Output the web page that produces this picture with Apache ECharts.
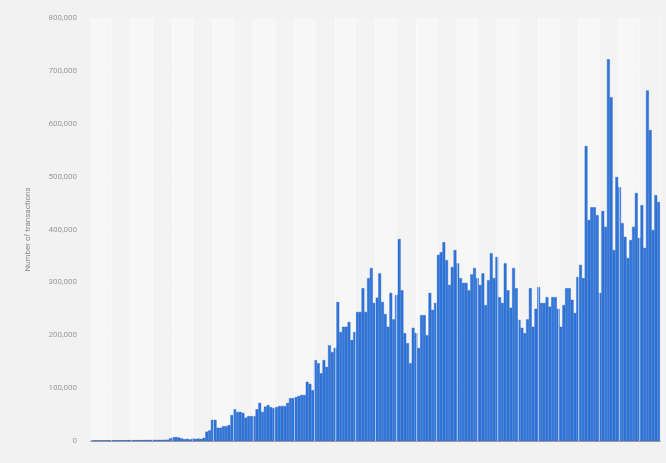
<!DOCTYPE html>
<html>
<head>
<meta charset="utf-8">
<script src="https://cdn.jsdelivr.net/npm/echarts@6/dist/echarts.min.js"></script>
<style>
  html, body { margin: 0; padding: 0; background: #ffffff; }
  #chart { width: 666px; height: 463px; }
</style>
</head>
<body>
<div id="chart"></div>
<script>
// values, one bar per period
const transactions = [
  800, 900, 900, 1000, 1000, 1100, 1100, 1200, 1200, 1300,
  1300, 1400, 1400, 1500, 1500, 1600, 1600, 1700, 1700, 1800,
  1800, 1900, 2000, 2000, 2100, 2200, 2300, 2500,
  5000, 7000, 7500, 6500, 5000, 3500, 4000, 3000, 4500, 4000,
  4500, 4000, 6000,
  17600, 20000, 40000, 40000, 25000, 25000, 28000, 28000, 30000, 49000,
  60000, 55000, 55000, 53000, 44000, 47000, 47000, 47000, 60000, 72000,
  55000, 65000, 68000, 64000, 62000, 64000, 66000, 66000, 66000, 72000,
  81000, 81000, 83000, 85000, 87000, 87000, 112000, 108000, 96000, 153000,
  147000, 128000, 153000, 140000, 181000, 168000, 176000, 263000, 206000, 216000,
  216000, 225000, 191000, 206000, 244000, 244000, 289000, 244000, 308000, 327000,
  261000, 271000, 317000, 263000, 240000, 216000, 280000, 230000, 276000, 382000,
  285000, 204000, 185000, 147000, 214000, 204000, 176000, 238000, 238000, 200000,
  280000, 248000, 261000, 352000, 357000, 376000, 342000, 295000, 329000, 361000,
  336000, 308000, 299000, 299000, 285000, 315000, 327000, 308000, 295000, 317000,
  257000, 304000, 355000, 308000, 348000, 272000, 261000, 336000, 285000, 252000,
  327000, 289000, 229000, 214000, 204000, 230000, 289000, 216000, 250000, 291000,
  261000, 261000, 272000, 254000, 272000, 272000, 250000, 216000, 257000, 289000,
  289000, 267000, 242000, 310000, 333000, 308000, 558000, 418000, 442000, 442000,
  427000, 280000, 435000, 405000, 722000, 650000, 361000, 499000, 480000, 412000,
  386000, 346000, 380000, 405000, 469000, 384000, 446000, 365000, 663000, 588000,
  399000, 465000, 452000
];
const periods = transactions.map((v, i) => 'P' + (i + 1));
const bandCount = 28;
const bands = Array.from({ length: bandCount }, (_, i) => 'M' + (i + 1));
const yTicks = [0, 100000, 200000, 300000, 400000, 500000, 600000, 700000, 800000];

const chart = echarts.init(document.getElementById('chart'));

const option = {
  backgroundColor: '#f2f2f2',
  animation: false,
  grid: { left: 91, right: 6, top: 18, bottom: 22 },
  xAxis: [
    {
      type: 'category',
      data: periods,
      axisLine: { show: true, lineStyle: { color: '#8a8a8a', width: 1.5 } },
      axisTick: { show: false },
      axisLabel: { show: false },
      splitLine: { show: false }
    },
    {
      // alternating background bands
      type: 'category',
      data: bands,
      position: 'bottom',
      z: 0,
      axisLine: { show: false },
      axisTick: { show: false },
      axisLabel: { show: false, interval: 0 },
      splitArea: { show: true, interval: 0, areaStyle: { color: ['#f7f7f7', '#f3f3f3'] } },
      splitLine: { show: false }
    },
    {
      // thin white separators over the bars
      type: 'category',
      data: bands,
      position: 'bottom',
      z: 5,
      axisLine: { show: false },
      axisTick: { show: false },
      axisLabel: { show: false, interval: 0 },
      splitLine: { show: true, interval: 0, lineStyle: { color: 'rgba(255,255,255,0.5)', width: 1 } }
    }
  ],
  yAxis: {
    type: 'value',
    min: 0,
    max: 800000,
    interval: 100000,
    name: 'Number of transactions',
    nameLocation: 'middle',
    nameGap: 59,
    nameTextStyle: { color: '#888', fontSize: 8, fontFamily: 'Roboto' },
    axisLine: { show: false },
    axisTick: { show: false },
    axisLabel: {
      color: '#9a9a9a',
      fontSize: 8,
      fontFamily: 'Roboto',
      margin: 14,
      formatter: v => (yTicks.includes(v) ? v.toLocaleString('en-US') : '')
    },
    splitLine: { lineStyle: { color: '#e2e2e2', type: [2, 2] } }
  },
  series: [
    {
      type: 'bar',
      xAxisIndex: 0,
      data: transactions,
      barCategoryGap: '0%',
      itemStyle: { color: '#2f76dc', borderColor: '#2660bd', borderWidth: 0.4 }
    }
  ]
};

chart.setOption(option);
</script>
</body>
</html>
